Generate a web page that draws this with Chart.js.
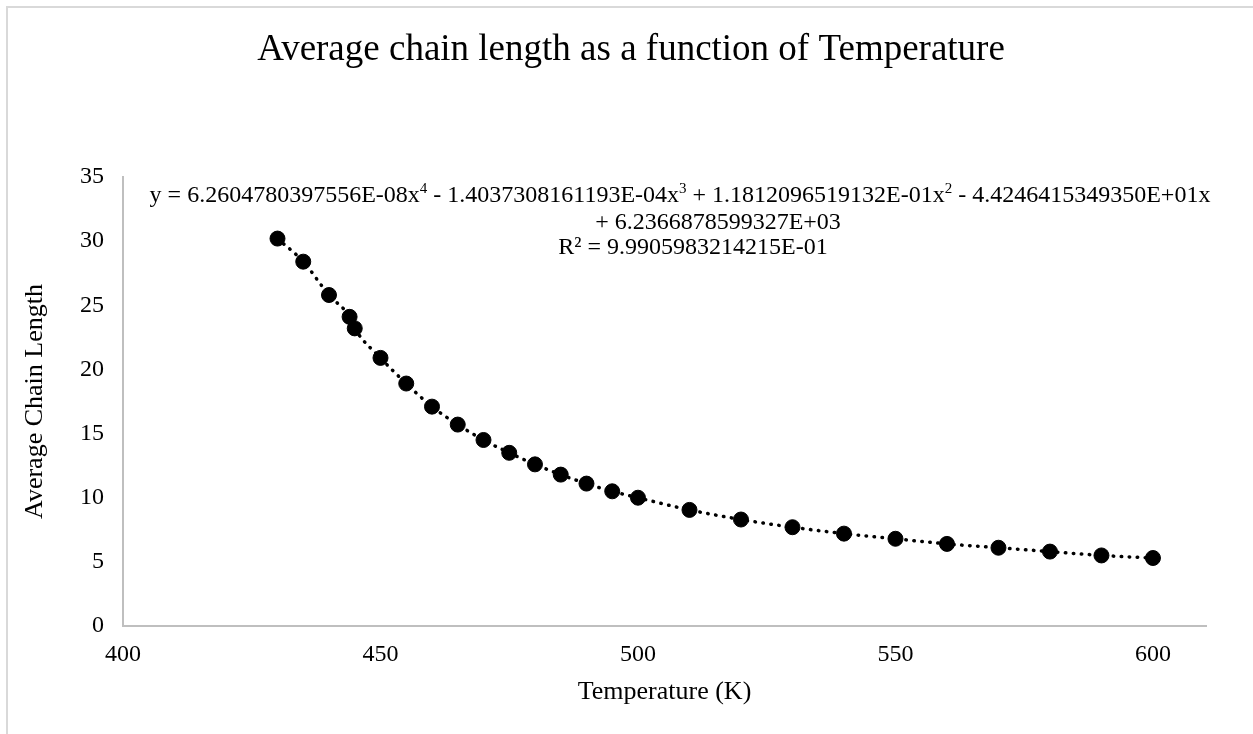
<!DOCTYPE html>
<html>
<head>
<meta charset="utf-8">
<script src="https://cdn.jsdelivr.net/npm/chart.js@4.4.1/dist/chart.umd.min.js"></script>
<style>
  html, body { margin: 0; padding: 0; background: #fff; }
  #wrap { position: relative; width: 1253px; height: 734px; overflow: hidden; }
  #frame { position: absolute; left: 6px; top: 6px; width: 1300px; height: 800px;
           border-top: 2px solid #d9d9d9; border-left: 2px solid #d9d9d9; }
  canvas { position: absolute; left: 0; top: 0; }
</style>
</head>
<body>
<div id="wrap">
  <canvas id="myChart" width="1253" height="734"></canvas>
  <div id="frame"></div>
</div>
<script>
// data
const temperatures = [430, 435, 440, 444, 445, 450, 455, 460, 465, 470, 475, 480, 485,
  490, 495, 500, 510, 520, 530, 540, 550, 560, 570, 580, 590, 600];
const chainLengths = [30.2, 28.4, 25.8, 24.1, 23.2, 20.9, 18.9, 17.1, 15.7, 14.5, 13.5, 12.6, 11.8,
  11.1, 10.5, 10.0, 9.05, 8.3, 7.7, 7.2, 6.8, 6.4, 6.1, 5.8, 5.5, 5.3];
const xTicks = [400, 450, 500, 550, 600];
const yTicks = [0, 5, 10, 15, 20, 25, 30, 35];

const chartTitle = 'Average chain length as a function of Temperature';
// trendline label, [text, superscript?]
const equationLines = [
  [['y = 6.2604780397556E-08x'], ['4', true], [' - 1.4037308161193E-04x'], ['3', true],
   [' + 1.1812096519132E-01x'], ['2', true], [' - 4.4246415349350E+01x']],
  [['+ 6.2366878599327E+03']],
  [['R² = 9.9905983214215E-01']]
];

const FONT = "'Liberation Serif', 'Times New Roman', serif";
const points = temperatures.map((t, i) => ({ x: t, y: chainLengths[i] }));

// title + trendline equation (title is centred on the whole, uncropped chart box)
const textBlocks = {
  id: 'textBlocks',
  afterDraw(chart) {
    const ctx = chart.ctx;
    ctx.save();
    ctx.fillStyle = '#000';
    ctx.textBaseline = 'middle';

    ctx.textAlign = 'center';
    ctx.font = '37px ' + FONT;
    ctx.fillText(chartTitle, 631, 50);

    ctx.textAlign = 'left';
    const centres = [680, 718, 693];
    const ys = [196, 223, 248];
    equationLines.forEach((parts, li) => {
      let w = 0;
      parts.forEach(p => {
        ctx.font = (p[1] ? '15px ' : '24px ') + FONT;
        w += ctx.measureText(p[0]).width;
      });
      let x = centres[li] - w / 2;
      parts.forEach(p => {
        ctx.font = (p[1] ? '15px ' : '24px ') + FONT;
        ctx.fillText(p[0], x, p[1] ? ys[li] - 7 : ys[li]);
        x += ctx.measureText(p[0]).width;
      });
    });
    ctx.restore();
  }
};

const ctx = document.getElementById('myChart').getContext('2d');
new Chart(ctx, {
  type: 'scatter',
  data: {
    datasets: [
      {
        label: 'Average Chain Length',
        data: points,
        pointRadius: 7.5,
        pointHoverRadius: 7.5,
        backgroundColor: '#000',
        borderColor: '#000',
        showLine: false,
        order: 2
      },
      {
        label: 'Poly. (Average Chain Length)',
        data: points,
        showLine: true,
        pointRadius: 0,
        borderColor: '#000',
        borderWidth: 3.5,
        borderDash: [0.5, 7.5],
        borderCapStyle: 'round',
        cubicInterpolationMode: 'monotone',
        fill: false,
        order: 1
      }
    ]
  },
  options: {
    responsive: false,
    animation: false,
    events: [],
    layout: { padding: { left: 0, right: 47, top: 177, bottom: 0 } },
    plugins: {
      legend: { display: false },
      tooltip: { enabled: false },
      title: { display: false }
    },
    scales: {
      x: {
        type: 'linear',
        min: 400,
        max: 610.3,
        afterBuildTicks: s => { s.ticks = xTicks.map(v => ({ value: v })); },
        afterFit: s => { s.height = 108; },
        grid: { display: false, drawTicks: false },
        border: { display: true, color: '#bfbfbf', width: 2 },
        ticks: { color: '#000', font: { family: FONT, size: 24 }, padding: 14 },
        title: {
          display: true,
          text: 'Temperature (K)',
          color: '#000',
          font: { family: FONT, size: 26 },
          padding: { top: 0, bottom: 26 }
        }
      },
      y: {
        type: 'linear',
        min: 0,
        max: 35,
        afterBuildTicks: s => { s.ticks = yTicks.map(v => ({ value: v })); },
        afterFit: s => { s.width = 123; },
        grid: { display: false, drawTicks: false },
        border: { display: true, color: '#bfbfbf', width: 2 },
        ticks: { color: '#000', font: { family: FONT, size: 24 }, padding: 19 },
        title: {
          display: true,
          text: 'Average Chain Length',
          color: '#000',
          font: { family: FONT, size: 26 },
          padding: { top: 20, bottom: 0 }
        }
      }
    }
  },
  plugins: [textBlocks]
});
</script>
</body>
</html>
